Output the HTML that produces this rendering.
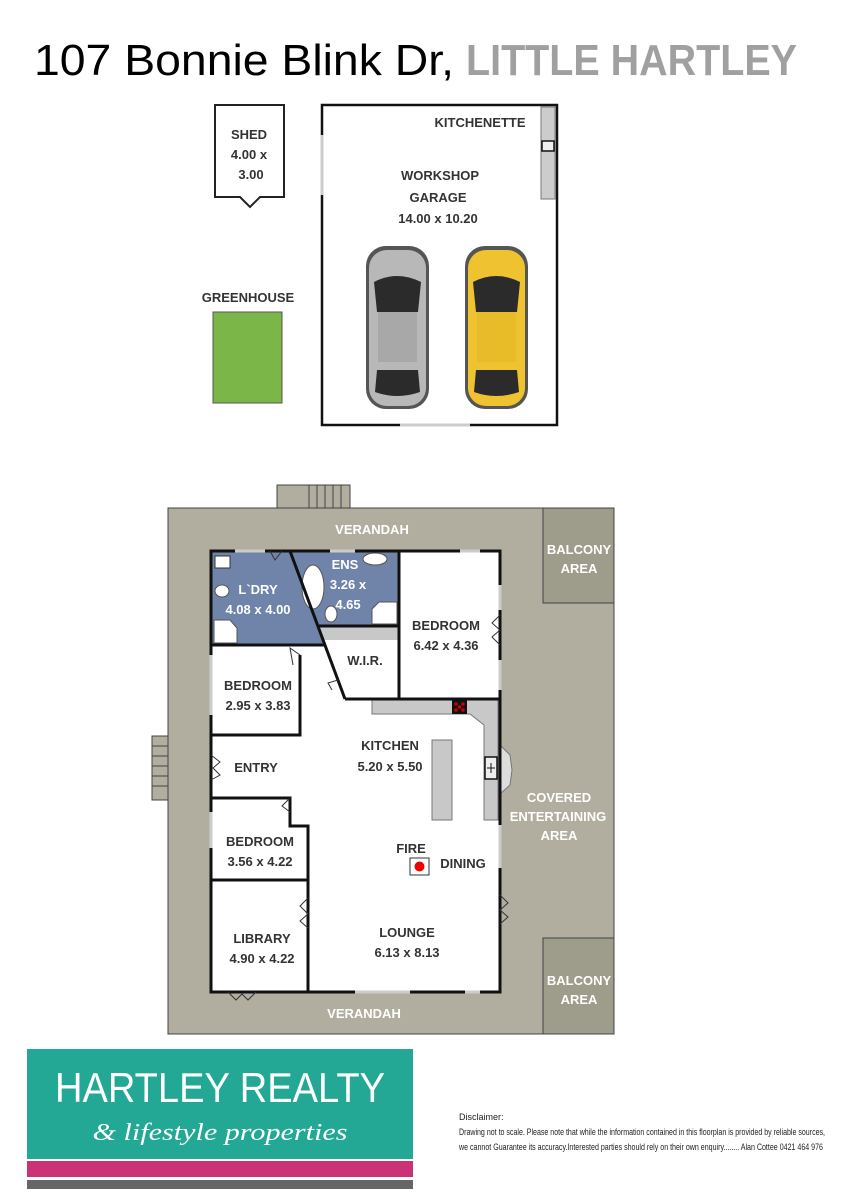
<!DOCTYPE html>
<html><head><meta charset="utf-8"><style>
html,body{margin:0;padding:0;background:#fff;}
svg{display:block;}
text{font-family:"Liberation Sans",sans-serif;font-weight:bold;}
</style></head><body>
<svg width="848" height="1200" viewBox="0 0 848 1200" xmlns="http://www.w3.org/2000/svg">
<!-- Title -->
<text x="34" y="75" font-size="44" font-weight="normal" style="font-weight:normal" fill="#000" textLength="420" lengthAdjust="spacingAndGlyphs">107 Bonnie Blink Dr,</text>
<text x="466" y="75" font-size="44" fill="#a0a0a0" textLength="331" lengthAdjust="spacingAndGlyphs">LITTLE HARTLEY</text>

<!-- Shed -->
<polygon points="215,105 284,105 284,197 260,197 250,207 240,197 215,197" fill="#fff" stroke="#222" stroke-width="2"/>
<text x="249" y="139" font-size="13" fill="#333" text-anchor="middle">SHED</text>
<text x="249" y="159" font-size="13" fill="#333" text-anchor="middle">4.00 x</text>
<text x="251" y="179" font-size="13" fill="#333" text-anchor="middle">3.00</text>

<!-- Greenhouse -->
<text x="248" y="302" font-size="13" fill="#333" text-anchor="middle">GREENHOUSE</text>
<rect x="213" y="312" width="69" height="91" fill="#7ab648" stroke="#555" stroke-width="1"/>

<!-- Garage -->
<rect x="322" y="105" width="235" height="320" fill="#fff" stroke="#111" stroke-width="2.5"/>
<rect x="541" y="107" width="14" height="92" fill="#ccc" stroke="#777" stroke-width="1"/>
<rect x="542" y="141" width="12" height="10" fill="#eee" stroke="#111" stroke-width="1.5"/>
<line x1="322" y1="135" x2="322" y2="195" stroke="#ccc" stroke-width="3"/>
<line x1="400" y1="425" x2="470" y2="425" stroke="#ccc" stroke-width="3"/>
<text x="480" y="127" font-size="13" fill="#333" text-anchor="middle">KITCHENETTE</text>
<text x="440" y="180" font-size="13" fill="#333" text-anchor="middle">WORKSHOP</text>
<text x="438" y="202" font-size="13" fill="#333" text-anchor="middle">GARAGE</text>
<text x="438" y="223" font-size="13" fill="#333" text-anchor="middle">14.00 x 10.20</text>
<!-- cars -->
<g>
<rect x="366" y="246" width="63" height="163" rx="20" fill="#555"/>
<rect x="369" y="250" width="57" height="156" rx="18" fill="#b8b8b8"/>
<path d="M374 282 Q397 270 421 282 L418 312 L377 312 Z" fill="#2b2b2b"/>
<rect x="378" y="312" width="39" height="50" fill="#a8a8a8"/>
<path d="M377 370 L418 370 L420 392 Q397 400 375 392 Z" fill="#2b2b2b"/>
</g>
<g>
<rect x="465" y="246" width="63" height="163" rx="20" fill="#555"/>
<rect x="468" y="250" width="57" height="156" rx="18" fill="#efc230"/>
<path d="M473 282 Q496 270 520 282 L517 312 L476 312 Z" fill="#2b2b2b"/>
<rect x="477" y="312" width="39" height="50" fill="#e8bb28"/>
<path d="M476 370 L517 370 L519 392 Q496 400 474 392 Z" fill="#2b2b2b"/>
</g>

<!-- House verandah -->
<rect x="277" y="485" width="73" height="24" fill="#b1ad9f" stroke="#444" stroke-width="1"/>
<g stroke="#444" stroke-width="1"><line x1="309" y1="485" x2="309" y2="508"/><line x1="317" y1="485" x2="317" y2="508"/><line x1="325" y1="485" x2="325" y2="508"/><line x1="333" y1="485" x2="333" y2="508"/><line x1="341" y1="485" x2="341" y2="508"/></g>
<rect x="152" y="736" width="17" height="64" fill="#b1ad9f" stroke="#444" stroke-width="1"/>
<g stroke="#444" stroke-width="1"><line x1="152" y1="746" x2="168" y2="746"/><line x1="152" y1="756" x2="168" y2="756"/><line x1="152" y1="766" x2="168" y2="766"/><line x1="152" y1="776" x2="168" y2="776"/><line x1="152" y1="786" x2="168" y2="786"/></g>
<rect x="168" y="508" width="446" height="526" fill="#b1ad9f" stroke="#444" stroke-width="1"/>
<rect x="543" y="508" width="71" height="95" fill="#9e9d8c" stroke="#444" stroke-width="1"/>
<rect x="543" y="938" width="71" height="96" fill="#9e9d8c" stroke="#444" stroke-width="1"/>
<g fill="#fff" font-size="13" text-anchor="middle">
<text x="372" y="534">VERANDAH</text>
<text x="364" y="1018">VERANDAH</text>
<text x="579" y="554">BALCONY</text>
<text x="579" y="573">AREA</text>
<text x="579" y="985">BALCONY</text>
<text x="579" y="1004">AREA</text>
<text x="559" y="802">COVERED</text>
<text x="558" y="821">ENTERTAINING</text>
<text x="559" y="840">AREA</text>
</g>

<!-- Interior -->
<rect x="211" y="551" width="289" height="441" fill="#fff"/>
<!-- blue wet areas -->
<polygon points="212,552 290,552 325,644 212,644" fill="#6f84a8"/>
<polygon points="290,552 399,552 399,626 318,626" fill="#6f84a8"/>
<!-- WIR shelf -->
<polygon points="318,627 399,627 399,640 323,640" fill="#c8c8c8"/>
<!-- fixtures -->
<rect x="215" y="556" width="15" height="12" fill="#fff" stroke="#333"/>
<ellipse cx="222" cy="591" rx="7" ry="6" fill="#fff" stroke="#555"/>
<polygon points="214,620 230,620 237,628 237,643 214,643" fill="#fff" stroke="#555"/>
<ellipse cx="313" cy="587" rx="11" ry="22" fill="#fff" stroke="#555"/>
<ellipse cx="375" cy="559" rx="12" ry="6" fill="#fff" stroke="#555"/>
<ellipse cx="331" cy="614" rx="6" ry="8" fill="#fff" stroke="#555"/>
<polygon points="372,609 379,602 397,602 397,624 372,624" fill="#fff" stroke="#555"/>
<!-- kitchen benches -->
<polygon points="372,700 484,700 498,700 498,820 484,820 484,725 470,714 372,714" fill="#c8c8c8" stroke="#777"/>
<rect x="452" y="700" width="15" height="14" fill="#111"/>
<g fill="#c00"><circle cx="456" cy="704" r="1.8"/><circle cx="463" cy="704" r="1.8"/><circle cx="456" cy="710" r="1.8"/><circle cx="463" cy="710" r="1.8"/><circle cx="459.5" cy="707" r="1.8"/></g>
<rect x="485" y="757" width="12" height="22" fill="#eee" stroke="#111" stroke-width="1.5"/>
<line x1="491" y1="763" x2="491" y2="773" stroke="#111"/><line x1="487" y1="768" x2="495" y2="768" stroke="#111"/>
<polygon points="500,745 510,755 512,770 510,785 500,794" fill="#ddd" stroke="#777"/>
<rect x="432" y="740" width="20" height="80" fill="#c8c8c8" stroke="#777"/>
<!-- fire -->
<rect x="410" y="858" width="19" height="17" fill="#fff" stroke="#333"/>
<circle cx="419.5" cy="866.5" r="5" fill="#e00"/>

<!-- walls -->
<g fill="none" stroke="#111" stroke-width="3">
<rect x="211" y="551" width="289" height="441"/>
<line x1="290" y1="551" x2="345" y2="699"/>
<line x1="212" y1="645" x2="326" y2="645"/>
<line x1="399" y1="551" x2="399" y2="699"/>
<line x1="318" y1="626" x2="399" y2="626"/>
<line x1="345" y1="699" x2="500" y2="699"/>
<polyline points="300,655 300,735 211,735"/>
<polyline points="211,798 290,798 290,826 308,826 308,992"/>
<line x1="211" y1="880" x2="308" y2="880"/>
</g>
<!-- windows -->
<g stroke="#ccc" stroke-width="3">
<line x1="211" y1="655" x2="211" y2="715"/>
<line x1="211" y1="812" x2="211" y2="848"/>
<line x1="500" y1="825" x2="500" y2="868"/>
<line x1="355" y1="992" x2="410" y2="992"/>
<line x1="465" y1="992" x2="480" y2="992"/>
<line x1="235" y1="551" x2="265" y2="551"/>
<line x1="330" y1="551" x2="355" y2="551"/>
<line x1="460" y1="551" x2="480" y2="551"/>
<line x1="500" y1="585" x2="500" y2="610"/>
<line x1="500" y1="660" x2="500" y2="690"/>
</g>
<!-- doors (zigzags) -->
<g fill="none" stroke="#333" stroke-width="1">
<polyline points="211,755 220,762 213,768 220,775 211,780"/>
<polyline points="308,898 300,906 308,914 300,921 308,928"/>
<polyline points="500,895 508,903 500,910 508,917 500,924"/>
<polyline points="228,992 236,1000 242,994 248,1000 256,992"/>
<polyline points="500,615 492,623 500,630 492,637 500,645"/>
<polyline points="290,798 282,806 290,812"/>
<polyline points="300,655 290,648 293,665"/>
<polyline points="338,680 328,683 332,690"/>
<polyline points="270,551 275,560 282,551"/>
</g>

<!-- labels -->
<g fill="#333" font-size="13" text-anchor="middle">
<text x="258" y="690">BEDROOM</text>
<text x="258" y="710">2.95 x 3.83</text>
<text x="256" y="772">ENTRY</text>
<text x="260" y="846">BEDROOM</text>
<text x="260" y="866">3.56 x 4.22</text>
<text x="262" y="943">LIBRARY</text>
<text x="262" y="963">4.90 x 4.22</text>
<text x="390" y="750">KITCHEN</text>
<text x="390" y="771">5.20 x 5.50</text>
<text x="411" y="853">FIRE</text>
<text x="463" y="868">DINING</text>
<text x="407" y="937">LOUNGE</text>
<text x="407" y="957">6.13 x 8.13</text>
<text x="446" y="630">BEDROOM</text>
<text x="446" y="650">6.42 x 4.36</text>
<text x="365" y="665">W.I.R.</text>
</g>
<g fill="#fff" font-size="13" text-anchor="middle">
<text x="258" y="594">L`DRY</text>
<text x="258" y="614">4.08 x 4.00</text>
<text x="345" y="569">ENS</text>
<text x="348" y="589">3.26 x</text>
<text x="348" y="609">4.65</text>
</g>

<!-- Logo -->
<rect x="27" y="1049" width="386" height="110" fill="#23a895"/>
<text x="220" y="1102" font-size="42" fill="#fff" style="font-weight:normal" text-anchor="middle" textLength="330" lengthAdjust="spacingAndGlyphs">HARTLEY REALTY</text>
<text x="220" y="1140" font-size="24" fill="#fff" style="font-weight:normal;font-style:italic;font-family:'Liberation Serif',serif" text-anchor="middle" textLength="255" lengthAdjust="spacingAndGlyphs">&amp; lifestyle properties</text>
<rect x="27" y="1161" width="386" height="16" fill="#cc3376"/>
<rect x="27" y="1180" width="386" height="9" fill="#666"/>

<!-- Disclaimer -->
<g fill="#222" font-size="9" style="font-weight:normal">
<text x="459" y="1120" style="font-weight:normal">Disclaimer:</text>
<text x="459" y="1135" style="font-weight:normal" textLength="366" lengthAdjust="spacingAndGlyphs">Drawing not to scale. Please note that while the information contained in this floorplan is provided by reliable sources,</text>
<text x="459" y="1150" style="font-weight:normal" textLength="364" lengthAdjust="spacingAndGlyphs">we cannot Guarantee its accuracy.Interested parties should rely on their own enquiry........ Alan Cottee 0421 464 976</text>
</g>
</svg>
</body></html>
